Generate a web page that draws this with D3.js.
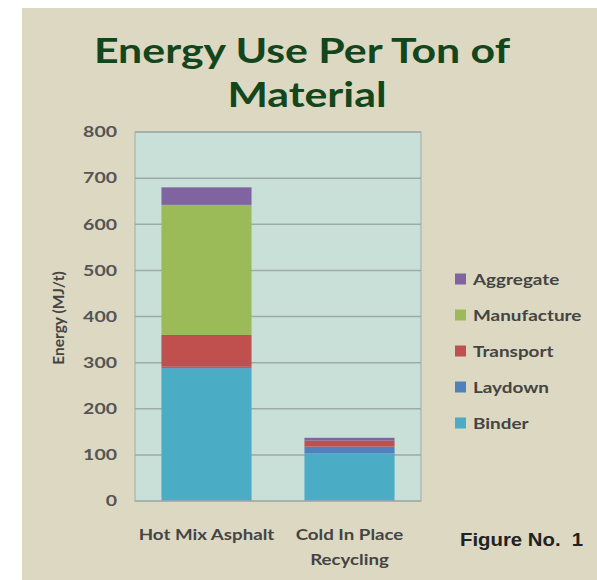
<!DOCTYPE html>
<html>
<head>
<meta charset="utf-8">
<script src="https://cdn.jsdelivr.net/npm/d3@7"></script>
<style>
  html, body { margin: 0; padding: 0; background: #ffffff; }
  svg { display: block; }
</style>
</head>
<body>
<svg id="chart" width="597" height="580"></svg>
<script>
// Energy use per ton of material, stacked by component (MJ/t)
const categories = [["Hot Mix Asphalt"], ["Cold In Place", "Recycling"]];
const components = ["Binder", "Laydown", "Transport", "Manufacture", "Aggregate"];
const binder      = [287, 103];
const laydown     = [4, 15];
const transport   = [69, 13];
const manufacture = [282, 0];
const aggregate   = [38, 6];
const yTicks = [0, 100, 200, 300, 400, 500, 600, 700, 800];
const colors = ["#4bacc6", "#4f81bd", "#c0504d", "#9bbb59", "#8064a2"];

const series = [binder, laydown, transport, manufacture, aggregate];
const rows = categories.map((c, i) => {
  const r = { key: c.join(" ") };
  components.forEach((k, j) => { r[k] = series[j][i]; });
  return r;
});

const FONT = "Lato, sans-serif";
const svg = d3.select("#chart");

// Text set in a horizontally widened face
function wideText(parent, x, y, str, opts) {
  const sx = opts.sx || 1;
  return parent.append("text")
    .attr("transform", `translate(${x},${y}) scale(${sx},1)`)
    .attr("text-anchor", opts.anchor || "start")
    .attr("font-family", opts.family || FONT)
    .attr("font-weight", "bold")
    .attr("font-size", opts.size)
    .attr("fill", opts.fill)
    .attr("xml:space", "preserve")
    .text(str);
}

// Panel background
svg.append("rect").attr("x", 22).attr("y", 8).attr("width", 575).attr("height", 572)
  .attr("fill", "#ddd8c2");

const plot = { left: 135, right: 421, top: 132, bottom: 501 };

const x = d3.scaleBand().domain(rows.map(r => r.key))
  .range([plot.left, plot.right]).paddingInner(0).paddingOuter(0);
const barW = x.bandwidth() * 0.63;
const y = d3.scaleLinear().domain([0, 800]).range([plot.bottom, plot.top]);

// Plot area
svg.append("rect")
  .attr("x", plot.left).attr("y", plot.top)
  .attr("width", plot.right - plot.left).attr("height", plot.bottom - plot.top)
  .attr("fill", "#c8e0d8").attr("stroke", "#aebdb6").attr("stroke-width", 1.5);

// Gridlines
svg.append("g").selectAll("line").data(yTicks.slice(1)).join("line")
  .attr("x1", plot.left).attr("x2", plot.right)
  .attr("y1", d => y(d)).attr("y2", d => y(d))
  .attr("stroke", "#9eaba5").attr("stroke-width", 1.5);

// Stacked bars
const stack = d3.stack().keys(components)(rows);
svg.append("g").selectAll("g").data(stack).join("g")
  .attr("fill", (d, i) => colors[i])
  .selectAll("rect").data(d => d).join("rect")
  .attr("x", d => x(d.data.key) + (x.bandwidth() - barW) / 2)
  .attr("width", barW)
  .attr("y", d => y(d[1]))
  .attr("height", d => y(d[0]) - y(d[1]));

// Category axis line
svg.append("line")
  .attr("x1", plot.left).attr("x2", plot.right)
  .attr("y1", plot.bottom).attr("y2", plot.bottom)
  .attr("stroke", "#9eaba5").attr("stroke-width", 1.5);

// Y axis labels
const tickSx = 1.3;
const yAxis = d3.axisLeft(y).tickValues(yTicks).tickSize(0).tickPadding(18);
const gy = svg.append("g").attr("transform", `translate(${plot.left},0)`).call(yAxis);
gy.select(".domain").remove();
gy.selectAll("text")
  .attr("x", -18 / tickSx)
  .attr("transform", `scale(${tickSx},1)`)
  .attr("font-family", FONT).attr("font-weight", "bold")
  .attr("font-size", 15).attr("fill", "#555555");

// Y axis title
svg.append("text")
  .attr("transform", "translate(64,318) rotate(-90)")
  .attr("text-anchor", "middle")
  .attr("font-family", FONT).attr("font-weight", "bold")
  .attr("font-size", 15.5).attr("fill", "#444444")
  .text("Energy (MJ/t)");

// Category labels
rows.forEach((r, i) => {
  const cx = x(r.key) + x.bandwidth() / 2;
  categories[i].forEach((line, j) => {
    wideText(svg, cx, 540 + j * 25, line,
      { anchor: "middle", size: 14.5, fill: "#444444", sx: 1.29 });
  });
});

// Title
wideText(svg, 302, 63, "Energy Use Per Ton of",
  { anchor: "middle", size: 34, fill: "#13461c", sx: 1.26 });
wideText(svg, 307, 107, "Material",
  { anchor: "middle", size: 34, fill: "#13461c", sx: 1.26 });

// Legend (top to bottom: reverse stack order)
const legendKeys = components.slice().reverse();
const legendY = d3.scalePoint().domain(legendKeys).range([279, 423]);
const lg = svg.append("g").selectAll("g").data(legendKeys).join("g")
  .attr("transform", d => `translate(455,${legendY(d)})`);
lg.append("rect").attr("x", 0).attr("y", -5.5).attr("width", 11).attr("height", 11)
  .attr("fill", d => colors[components.indexOf(d)]);
lg.each(function (d) {
  wideText(d3.select(this), 18, 5.5, d, { size: 15, fill: "#444444", sx: 1.26 });
});

// Figure caption
wideText(svg, 460, 546, "Figure No.  1",
  { family: "Liberation Sans, Arial, sans-serif", size: 18.5, fill: "#222222", sx: 1.1 });
</script>
</body>
</html>
